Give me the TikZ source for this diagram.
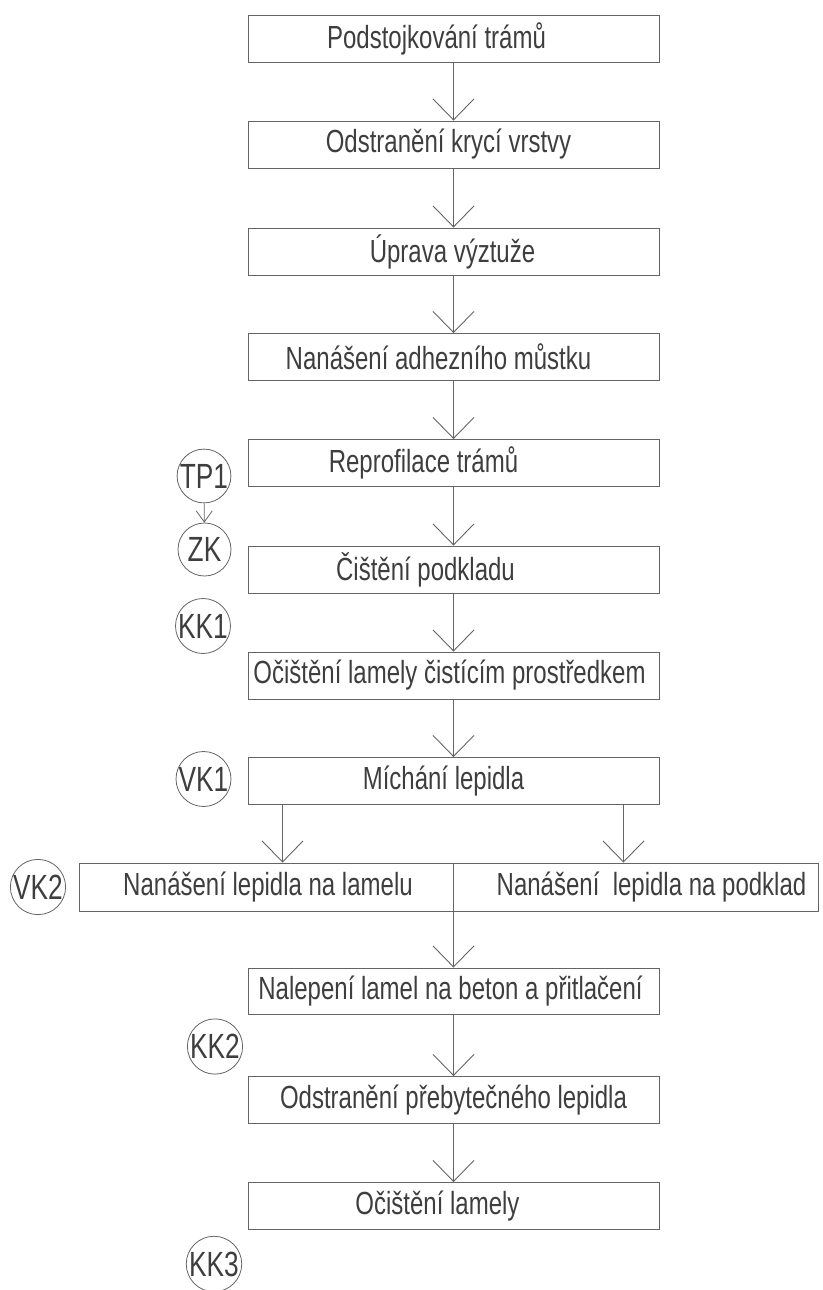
\documentclass[tikz,border=0pt]{standalone}
\usepackage{fontspec}
\setmainfont{Liberation Sans}[FakeStretch=0.75]
\usetikzlibrary{arrows.meta}
\definecolor{ln}{RGB}{100,100,100}
\definecolor{tx}{RGB}{62,62,62}
\newcommand\bxfont{\fontsize{32}{36}\selectfont}
\newcommand\crfont{\fontsize{35}{38}\selectfont}
\newcommand\sh[2]{\hspace*{#1pt}#2}
\begin{document}
\begin{tikzpicture}[x=1pt,y=-1pt,
  box/.style={draw=ln, line width=0.9pt, text=tx, minimum width=411pt, minimum height=47pt, inner sep=0pt, font=\bxfont},
  half/.style={draw=ln, line width=0.9pt, text=tx, minimum height=48pt, inner sep=0pt, font=\bxfont},
  circ/.style={draw=ln, line width=0.8pt, circle, minimum size=53pt, inner sep=0pt, text=tx, font=\crfont},
  arr/.style={draw=ln, line width=0.9pt, -{Straight Barb[length=21pt,width=41pt,line width=0.9pt]}},
  sarr/.style={draw=ln, line width=0.8pt, -{Straight Barb[length=11pt,width=16pt,line width=0.8pt]}}
]
\useasboundingbox (0,0) rectangle (822,1290);
% main column
\node[box] (b1) at (453.5,38.5) {\sh{-34}{Podstojkování trámů}};
\node[box] (b2) at (453.5,144.5) {\sh{-10}{Odstranění krycí vrstvy}};
\node[box] (b3) at (453.5,251.5) {\sh{-2}{Úprava výztuže}};
\node[box] (b4) at (453.5,357) {\sh{-30}{Nanášení adhezního můstku}};
\node[box] (b5) at (453.5,463) {\sh{-60}{Reprofilace trámů}};
\node[box] (b6) at (453.5,569.5) {\sh{-56}{Čištění podkladu}};
\node[box] (b7) at (453.5,675.5) {\sh{-8}{Očištění lamely čistícím prostředkem}};
\node[box] (b8) at (453.5,781) {\sh{-20}{Míchání lepidla}};
\node[half, minimum width=374pt] (sl) at (266,887) {\sh{4}{Nanášení lepidla na lamelu}};
\node[half, minimum width=365pt] (sr) at (635.5,887) {\sh{32}{Nanášení\ \ lepidla na podklad}};
\node[box, minimum height=46pt] (b9) at (453.5,991) {\sh{-6}{Nalepení lamel na beton a přitlačení}};
\node[box] (b10) at (453.5,1100) {\sh{0}{Odstranění přebytečného lepidla}};
\node[box] (b11) at (453.5,1206) {\sh{-32}{Očištění lamely}};
% circles
\node[circ] (tp1) at (204,476) {TP1};
\node[circ] (zk) at (204.5,549.5) {ZK};
\node[circ] (kk1) at (203,626) {KK1};
\node[circ] (vk1) at (203.5,779) {VK1};
\node[circ] (vk2) at (38,887) {VK2};
\node[circ] (kk2) at (215,1046.5) {KK2};
\node[circ] (kk3) at (214,1264) {KK3};
% connectors
\draw[arr] (b1) -- (b2);
\draw[arr] (b2) -- (b3);
\draw[arr] (b3) -- (b4);
\draw[arr] (b4) -- (b5);
\draw[arr] (b5) -- (b6);
\draw[arr] (b6) -- (b7);
\draw[arr] (b7) -- (b8);
\draw[arr] ([xshift=35pt]b8.south west) -- ([xshift=35pt]b8.south west |- sl.north);
\draw[arr] ([xshift=-36pt]b8.south east) -- ([xshift=-36pt]b8.south east |- sr.north);
\draw[arr] (sl.south east) -- (sl.south east |- b9.north);
\draw[arr] (b9) -- (b10);
\draw[arr] (b10) -- (b11);
\draw[sarr] (tp1) -- (zk);
\end{tikzpicture}
\end{document}
